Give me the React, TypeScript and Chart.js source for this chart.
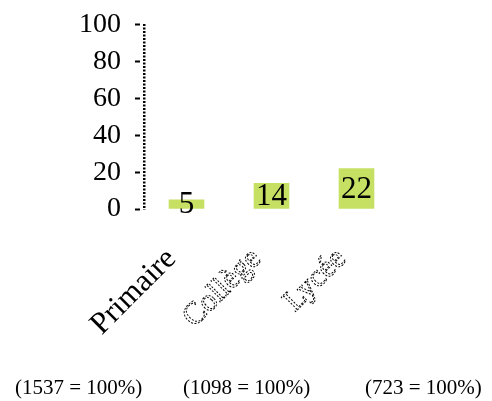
import React, { useEffect, useRef } from "react";
import { Chart, registerables } from "chart.js";

Chart.register(...registerables);

const categories = ["Primaire", "Collège", "Lycée"];
const values = [5, 14, 22];
const yTicks = [0, 20, 40, 60, 80, 100];
const totals = ["(1537 = 100%)", "(1098 = 100%)", "(723 = 100%)"];
const totalLefts = [7, 175, 357];

const SERIF = '"Liberation Serif", "Times New Roman", serif';

const dashedTextPlugin = {
  id: "dashedText",
  beforeDraw(chart: any) {
    chart.ctx.save();
    chart.ctx.setLineDash([2, 1.5]);
  },
  afterDraw(chart: any) {
    chart.ctx.restore();
  },
};

const valueLabelPlugin = {
  id: "valueLabels",
  afterDatasetsDraw(chart: any) {
    const ctx = chart.ctx;
    const meta = chart.getDatasetMeta(0);
    ctx.save();
    ctx.setLineDash([]);
    ctx.font = `31px ${SERIF}`;
    ctx.fillStyle = "#000";
    ctx.textAlign = "center";
    ctx.textBaseline = "middle";
    meta.data.forEach((bar: any, i: number) => {
      const { x, y, base } = bar.getProps(["x", "y", "base"], true);
      ctx.fillText(String(values[i]), x, (y + base) / 2 + 1);
    });
    ctx.restore();
  },
};

export default function App() {
  const ref = useRef<HTMLCanvasElement | null>(null);

  useEffect(() => {
    if (!ref.current) return;
    const chart = new Chart(ref.current, {
      type: "bar",
      data: {
        labels: categories,
        datasets: [
          {
            data: values,
            backgroundColor: "#c5e063",
            borderWidth: 0,
            barThickness: 35,
          },
        ],
      },
      plugins: [dashedTextPlugin, valueLabelPlugin],
      options: {
        responsive: false,
        animation: false,
        devicePixelRatio: 1,
        layout: { padding: { top: 16, right: 85, left: 0, bottom: 0 } },
        plugins: { legend: { display: false }, tooltip: { enabled: false } },
        scales: {
          x: {
            grid: { display: false },
            border: { display: false },
            ticks: {
              minRotation: 45,
              maxRotation: 45,
              autoSkip: false,
              padding: 24,
              labelOffset: -15,
              font: { family: SERIF, size: 31 },
              color: (c: any) => (c.index === 0 ? "#000" : "rgba(0,0,0,0)"),
              textStrokeColor: "#000",
              textStrokeWidth: (c: any) => (c.index === 0 ? 0 : 1),
            } as any,
            afterFit: (s: any) => {
              s.height = 184;
            },
          },
          y: {
            min: 0,
            max: 100,
            grid: {
              drawOnChartArea: false,
              tickLength: 23,
              tickWidth: 2,
              tickBorderDash: [0, 14, 5, 20],
              color: "#000",
            } as any,
            border: { display: true, color: "#000", width: 2.5, dash: [3, 3] },
            ticks: {
              autoSkip: false,
              padding: 0,
              color: "#000",
              font: { family: SERIF, size: 28 },
            },
            afterBuildTicks: (s: any) => {
              s.ticks = yTicks.map((v) => ({ value: v }));
            },
            afterFit: (s: any) => {
              s.width = 136;
            },
          },
        },
      },
    });
    return () => chart.destroy();
  }, []);

  return (
    <div style={{ position: "relative", width: 476, height: 393 }}>
      <canvas
        ref={ref}
        width={476}
        height={385}
        style={{ position: "absolute", left: 0, top: 0, display: "block" }}
      />
      {totals.map((t, i) => (
        <div
          key={t}
          style={{
            position: "absolute",
            top: 369,
            left: totalLefts[i],
            fontFamily: SERIF,
            fontSize: 21,
            lineHeight: "21px",
            whiteSpace: "nowrap",
            color: "#000",
          }}
        >
          {t}
        </div>
      ))}
    </div>
  );
}
